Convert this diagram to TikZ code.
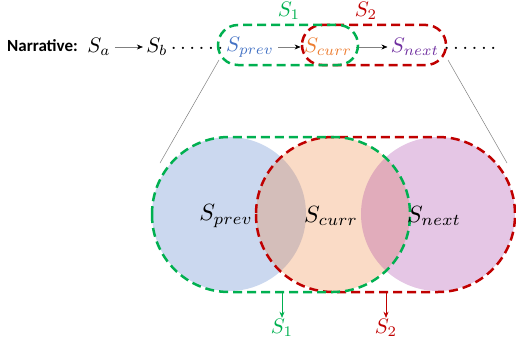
\documentclass[tikz,border=0pt]{standalone}
\usepackage{fontspec}
\newfontfamily\labelfont{Carlito}
\usetikzlibrary{arrows.meta}
\definecolor{cblue}{RGB}{68,114,196}
\definecolor{corange}{RGB}{237,125,49}
\definecolor{cpurple}{RGB}{112,48,160}
\definecolor{cpurplefill}{RGB}{160,50,160}
\definecolor{cgreen}{RGB}{0,176,80}
\definecolor{cred}{RGB}{192,0,0}
\begin{document}
\begin{tikzpicture}[x=1pt,y=-1pt,
  mtext/.style={inner sep=0.5pt,scale=2.1},
  btext/.style={inner sep=0.5pt,scale=2.35},
  flow/.style={draw=gray,line width=0.6pt,shorten <=3pt,shorten >=2pt,-{Stealth[length=6pt,width=5pt,color=black]}},
  greenbox/.style={draw=cgreen,line width=2.5pt,dash pattern=on 9pt off 5pt},
  redbox/.style={draw=cred,line width=2.5pt,dash pattern=on 9pt off 5pt},
  zoomline/.style={draw=gray,line width=0.5pt},
  venn/.style={circle,minimum size=154pt,inner sep=0pt,fill opacity=0.28}]
\useasboundingbox (0,0) rectangle (516,345);
% top row
\node[anchor=west,inner sep=0pt,font=\labelfont\bfseries\fontsize{17}{20}\selectfont] (narr) at (7,46) {Narrative:};
\node[mtext] (sa) at (99,47) {$S_a$};
\node[mtext] (sb) at (157,47) {$S_b$};
\node[mtext] (dl) at (197,48) {$\ldots\ldots$};
\node[mtext,text=cblue] (tprev) at (250,47) {$S_{prev}$};
\node[mtext,text=corange] (tcurr) at (328,47) {$S_{curr}$};
\node[mtext,text=cpurple] (tnext) at (415,47) {$S_{next}$};
\node[mtext] (dr) at (470,48) {$\ldots\ldots$};
\draw[flow] (sa) -- (sb);
\draw[flow] (tprev) -- (tcurr);
\draw[flow] (tcurr) -- (tnext);
% top dashed groups
\draw[redbox,rounded corners=20pt] (302,25) rectangle (446,65);
\draw[greenbox,rounded corners=20pt] (218,25) rectangle (358,65);
\node[mtext,text=cgreen] (s1top) at (289,11) {$S_1$};
\node[mtext,text=cred] (s2top) at (366,11) {$S_2$};
% zoom lines
\coordinate (zl1) at (219,60);
\coordinate (zl2) at (160,163);
\coordinate (zr1) at (448,60);
\coordinate (zr2) at (507,163);
\draw[zoomline] (zl1) -- (zl2);
\draw[zoomline] (zr1) -- (zr2);
% venn circles
\node[venn,fill=cblue] (cprev) at (229,214) {};
\node[venn,fill=corange] (ccurr) at (333,214) {};
\node[venn,fill=cpurplefill] (cnext) at (438,214) {};
% dashed groups
\draw[redbox,rounded corners=77pt] (256,137) rectangle (515,292);
\draw[greenbox,rounded corners=77pt] (152,137) rectangle (410,292);
% labels
\node[btext] (lprev) at (226,216) {$S_{prev}$};
\node[btext] (lcurr) at (331,216) {$S_{curr}$};
\node[btext] (lnext) at (434,216) {$S_{next}$};
% outputs
\coordinate (g1) at (282,293);
\coordinate (r1) at (386,293);
\node[mtext,text=cgreen] (s1b) at (282,328) {$S_1$};
\node[mtext,text=cred] (s2b) at (386,328) {$S_2$};
\draw[draw=cgreen,line width=0.6pt,-{Stealth[length=6pt,width=5pt]}] (g1) -- (s1b.north);
\draw[draw=cred,line width=0.6pt,-{Stealth[length=6pt,width=5pt]}] (r1) -- (s2b.north);
\end{tikzpicture}
\end{document}
